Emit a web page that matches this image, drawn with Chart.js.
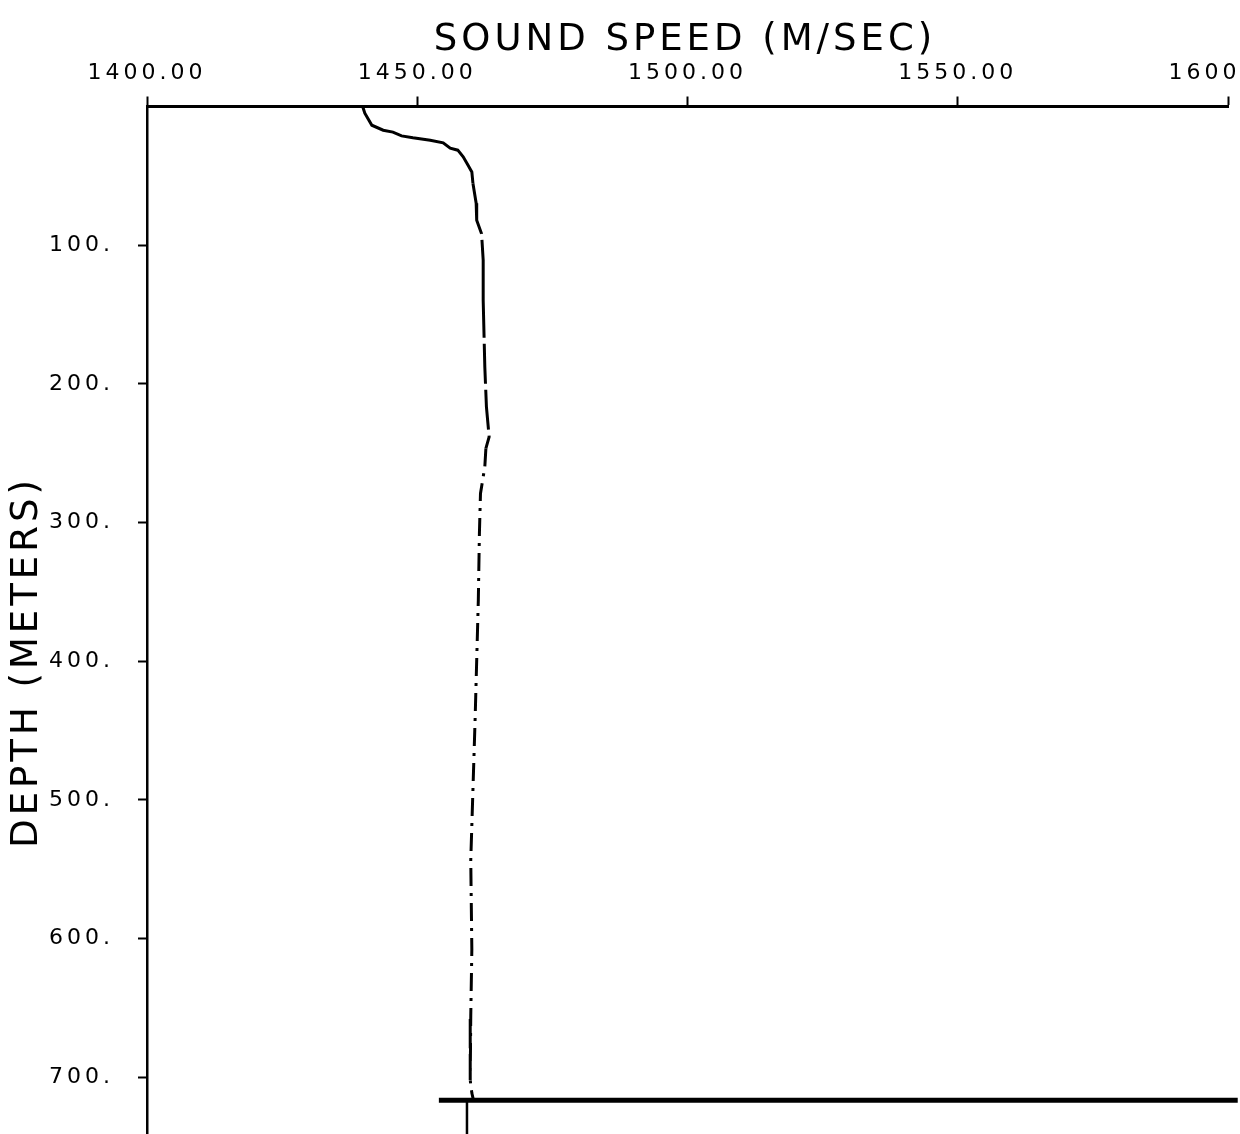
<!DOCTYPE html>
<html>
<head>
<meta charset="utf-8">
<title>Sound speed profile</title>
<script src="https://cdn.jsdelivr.net/npm/chart.js@4/dist/chart.umd.min.js"></script>
<style>
  body { margin: 0; background: #fff; }
  #wrap { width: 1240px; height: 1134px; position: relative; }
</style>
</head>
<body>
<div id="wrap"><canvas id="svpChart"></canvas></div>
<script>
// sound speed profile (depth in m, speed in m/s)
var depthM = [0, 4.8, 13.5, 17.1, 18.5, 21.2, 22.6, 24.3, 26.2, 30.1, 31.5, 36.3, 42.3, 47.2, 55.3, 69.7,
	82, 91.8, 110.8, 139.7, 187.8, 216.6, 238.3, 246.6, 259.9, 279.1, 307.9, 356, 442.6, 543.6, 608, 656, 702, 711.5, 716.6];
var speedMs = [1439.9, 1440.3, 1441.6, 1443.7, 1445.5, 1447.1, 1449.2, 1452.4, 1454.8, 1456.1, 1457.5, 1458.5, 1459.4, 1460.1, 1460.3, 1460.9,
	1461.0, 1461.9, 1462.2, 1462.2, 1462.5, 1462.8, 1463.3, 1462.7, 1462.5, 1461.7, 1461.5, 1461.3, 1460.7, 1459.9, 1460.1, 1459.9, 1459.8, 1460.1, 1460.4];

// bottom line and the small marker below it
var bottomSpeed = [1454.0, 1601.8];
var bottomDepth = [716.6, 716.6];
var stubSpeed = [1459.2, 1459.2];
var stubDepth = [716.6, 741];

// axes
var speedTicks = [1400, 1450, 1500, 1550, 1600];
var depthTicks = [100, 200, 300, 400, 500, 600, 700];
var speedMin = 1400, speedMax = 1600;
var depthMin = 0, depthMax = 741;

function toPoints(xs, ys) {
	var pts = [];
	for (var i = 0; i < xs.length; i++) pts.push({ x: xs[i], y: ys[i] });
	return pts;
}

var plotterFont = 'DejaVu Sans';

// wide plotter-style lettering for everything
var spacingPlugin = {
	id: 'spacing',
	beforeDraw: function (chart) {
		chart.ctx.letterSpacing = '4px';
	}
};

var titlesPlugin = {
	id: 'titles',
	afterDraw: function (chart) {
		var ctx = chart.ctx;
		ctx.save();
		ctx.letterSpacing = '4px';
		ctx.fillStyle = '#000';
		ctx.font = '37px ' + plotterFont;
		ctx.textAlign = 'center';
		ctx.textBaseline = 'middle';
		ctx.fillText('SOUND SPEED (M/SEC)', 685, 40);
		ctx.translate(27, 662);
		ctx.rotate(-Math.PI / 2);
		ctx.fillText('DEPTH (METERS)', 0, 0);
		ctx.restore();
	}
};

function loadProfileChart() {
	var el = document.getElementById('svpChart');
	var chart = new Chart(el, {
		type: 'scatter',
		data: {
			datasets: [
			{
				label: 'Sound speed',
				data: toPoints(speedMs, depthM),
				showLine: true,
				borderColor: '#000',
				borderWidth: 3,
				pointRadius: 0,
				tension: 0,
				segment: {
					borderDash: function (c) {
						var d = c.p0.parsed.y;
						if (d > 245) return [18, 7, 3, 7];
						if (d > 50) return [40, 6];
						return undefined;
					}
				}
			},
			{
				label: 'Bottom',
				data: toPoints(bottomSpeed, bottomDepth),
				showLine: true,
				borderColor: '#000',
				borderWidth: 5,
				pointRadius: 0,
				clip: false
			},
			{
				label: 'Marker',
				data: toPoints(stubSpeed, stubDepth),
				showLine: true,
				borderColor: '#000',
				borderWidth: 2.5,
				pointRadius: 0,
				clip: false
			}
			]
		},
		options: {
			responsive: true,
			maintainAspectRatio: false,
			animation: false,
			layout: { padding: { left: 0, right: 12, top: 0, bottom: 0 } },
			plugins: {
				legend: { display: false },
				tooltip: { enabled: false }
			},
			scales: {
				x: {
					type: 'linear',
					position: 'top',
					min: speedMin,
					max: speedMax,
					afterBuildTicks: function (scale) {
						scale.ticks = speedTicks.map(function (v) { return { value: v }; });
					},
					afterFit: function (scale) {
						scale.height = 106.5;
						scale.paddingLeft = 0;
						scale.paddingRight = 0;
					},
					ticks: {
						autoSkip: false,
						maxRotation: 0,
						padding: 10,
						color: '#000',
						font: { family: plotterFont, size: 22 },
						callback: function (v) { return Number(v).toFixed(2); }
					},
					grid: {
						drawOnChartArea: false,
						drawTicks: true,
						tickLength: 10,
						tickWidth: 2,
						tickColor: '#000'
					},
					border: { display: true, color: '#000', width: 3 }
				},
				y: {
					type: 'linear',
					reverse: true,
					min: depthMin,
					max: depthMax,
					afterBuildTicks: function (scale) {
						scale.ticks = depthTicks.map(function (v) { return { value: v }; });
					},
					afterFit: function (scale) {
						scale.width = 147;
						scale.paddingTop = 0;
						scale.paddingBottom = 0;
					},
					ticks: {
						autoSkip: false,
						padding: 24,
						color: '#000',
						font: { family: plotterFont, size: 22 },
						callback: function (v) { return v + '.'; }
					},
					grid: {
						drawOnChartArea: false,
						drawTicks: true,
						tickLength: 9,
						tickWidth: 2,
						tickColor: '#000'
					},
					border: { display: true, color: '#000', width: 2.5 }
				}
			}
		},
		plugins: [spacingPlugin, titlesPlugin]
	});

	window.profileChart = chart;
}
loadProfileChart();
</script>
</body>
</html>
